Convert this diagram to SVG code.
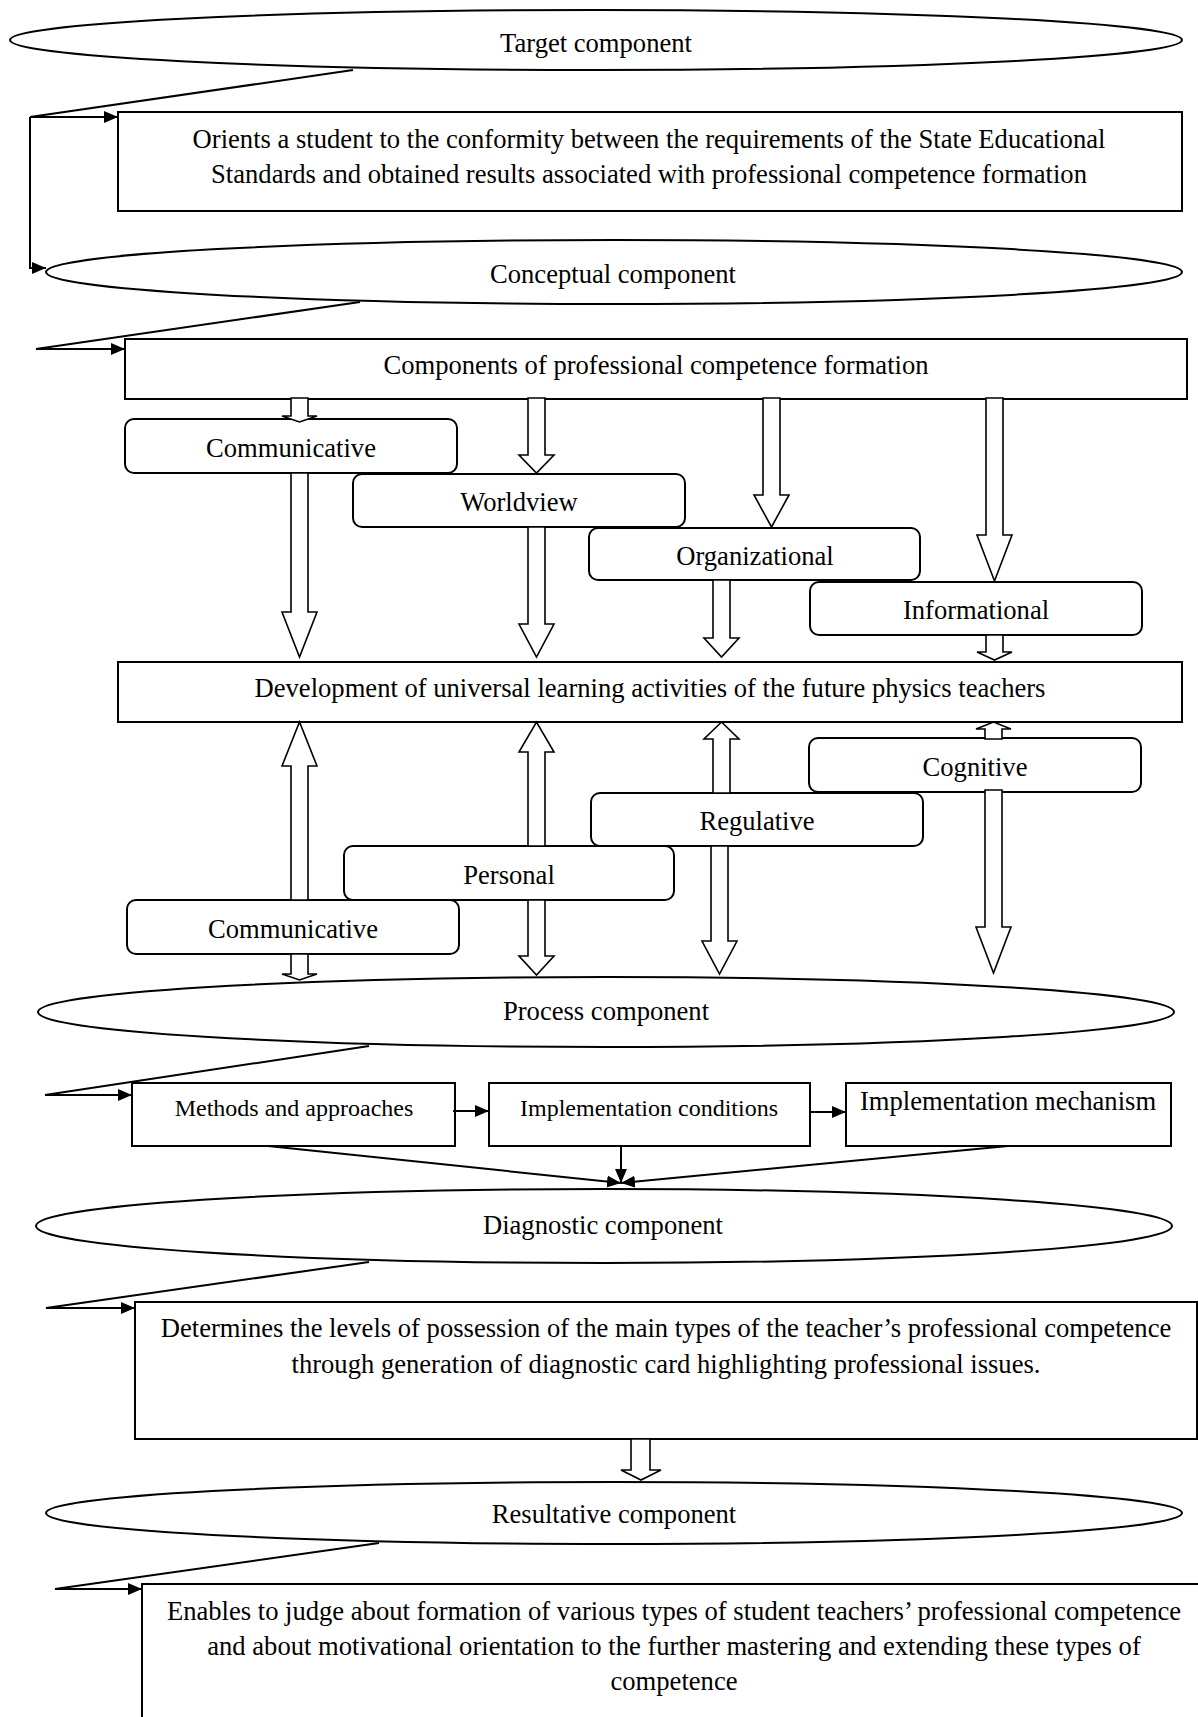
<svg xmlns="http://www.w3.org/2000/svg" width="1198" height="1717" viewBox="0 0 1198 1717">
<style>
text{font-family:"Liberation Serif","Times New Roman",serif;font-size:26.6px;fill:#000;text-anchor:middle}
.sm{font-size:24px}
.el,.bx,.rb{fill:#fff;stroke:#000;stroke-width:2}
.ln{fill:none;stroke:#000;stroke-width:2}
.blk{fill:#fff;stroke:#000;stroke-width:1.6;stroke-linejoin:miter}
</style>
<defs>
<marker id="ah" viewBox="0 0 14 12" refX="14" refY="6" markerWidth="14" markerHeight="12" markerUnits="userSpaceOnUse" orient="auto">
<path d="M0,0 L14,6 L0,12 Z" fill="#000"/>
</marker>
</defs>
<rect width="1198" height="1717" fill="#fff"/>

<g id="target"><ellipse class="el" cx="596" cy="40" rx="586" ry="30"/><text x="596" y="52">Target component</text></g>
<g id="orients"><rect class="bx" x="118" y="112" width="1064" height="99"/>
<text x="649" y="148">Orients a student to the conformity between the requirements of the State Educational</text>
<text x="649" y="183">Standards and obtained results associated with professional competence formation</text></g>
<g id="conceptual"><ellipse class="el" cx="614" cy="272" rx="568" ry="32"/><text x="613" y="283">Conceptual component</text></g>
<g id="components"><rect class="bx" x="125" y="339" width="1062" height="60"/><text x="656" y="374">Components of professional competence formation</text></g>
<g id="communicative1"><rect class="rb" x="125" y="419" width="332" height="54" rx="9"/><text x="291" y="457">Communicative</text></g>
<g id="worldview"><rect class="rb" x="353" y="474" width="332" height="53" rx="9"/><text x="519" y="511">Worldview</text></g>
<g id="organizational"><rect class="rb" x="589" y="528" width="331" height="52" rx="9"/><text x="755" y="565">Organizational</text></g>
<g id="informational"><rect class="rb" x="810" y="582" width="332" height="53" rx="9"/><text x="976" y="619">Informational</text></g>
<g id="development"><rect class="bx" x="118" y="662" width="1064" height="60"/><text x="650" y="697">Development of universal learning activities of the future physics teachers</text></g>
<g id="cognitive"><rect class="rb" x="809" y="738" width="332" height="54" rx="9"/><text x="975" y="776">Cognitive</text></g>
<g id="regulative"><rect class="rb" x="591" y="793" width="332" height="53" rx="9"/><text x="757" y="830">Regulative</text></g>
<g id="personal"><rect class="rb" x="344" y="846" width="330" height="54" rx="9"/><text x="509" y="884">Personal</text></g>
<g id="communicative2"><rect class="rb" x="127" y="900" width="332" height="54" rx="9"/><text x="293" y="938">Communicative</text></g>
<g id="process"><ellipse class="el" cx="606" cy="1012" rx="568" ry="35"/><text x="606" y="1020">Process component</text></g>
<g id="methods"><rect class="bx" x="132" y="1083" width="323" height="63"/><text class="sm" x="294" y="1116">Methods and approaches</text></g>
<g id="conditions"><rect class="bx" x="489" y="1083" width="321" height="63"/><text class="sm" x="649" y="1116">Implementation conditions</text></g>
<g id="mechanism"><rect class="bx" x="846" y="1083" width="325" height="63"/><text x="1008" y="1110">Implementation mechanism</text></g>
<g id="diagnostic"><ellipse class="el" cx="604" cy="1226" rx="568" ry="37"/><text x="603" y="1234">Diagnostic component</text></g>
<g id="determines"><rect class="bx" x="135" y="1302" width="1062" height="137"/>
<text x="666" y="1337">Determines the levels of possession of the main types of the teacher’s professional competence</text>
<text x="666" y="1373">through generation of diagnostic card highlighting professional issues.</text></g>
<g id="resultative"><ellipse class="el" cx="614" cy="1513" rx="568" ry="31"/><text x="614" y="1523">Resultative component</text></g>
<g id="enables"><rect class="bx" x="142" y="1584" width="1070" height="200"/>
<text x="674" y="1620">Enables to judge about formation of various types of student teachers’ professional competence</text>
<text x="674" y="1655">and about motivational orientation to the further mastering and extending these types of</text>
<text x="674" y="1690">competence</text></g>

<g id="connectors">
<path class="ln" d="M353,70 L30,117"/>
<path class="ln" d="M30,117 H118" marker-end="url(#ah)"/>
<path class="ln" d="M30,117 V268 H46" marker-end="url(#ah)"/>
<path class="ln" d="M360,302 L36,349 H125" marker-end="url(#ah)"/>
<path class="ln" d="M369,1046 L45,1095 H132" marker-end="url(#ah)"/>
<path class="ln" d="M453,1111 H489" marker-end="url(#ah)"/>
<path class="ln" d="M810,1112 H846" marker-end="url(#ah)"/>
<path class="ln" d="M268,1146 L621,1183" marker-end="url(#ah)"/>
<path class="ln" d="M621,1146 V1183" marker-end="url(#ah)"/>
<path class="ln" d="M1008,1146 L621,1183" marker-end="url(#ah)"/>
<path class="ln" d="M369,1262 L46,1308 H135" marker-end="url(#ah)"/>
<path class="ln" d="M379,1543 L55,1589 H142" marker-end="url(#ah)"/>

<polygon class="blk" points="291,398 308,398 308,416 317,416 299.5,422 282,416 291,416"/>
<polygon class="blk" points="528,398 545,398 545,455 554,455 536.5,473 519,455 528,455"/>
<polygon class="blk" points="763,398 780,398 780,495 789,495 771.5,527 754,495 763,495"/>
<polygon class="blk" points="986,398 1003,398 1003,535 1012,535 994.5,581 977,535 986,535"/>
<polygon class="blk" points="291,473 308,473 308,612 317,612 299.5,657 282,612 291,612"/>
<polygon class="blk" points="528,527 545,527 545,624 554,624 536.5,657 519,624 528,624"/>
<polygon class="blk" points="713,580 730,580 730,638 739,638 721.5,657 704,638 713,638"/>
<polygon class="blk" points="986,635 1003,635 1003,652 1012,652 994.5,660 977,652 986,652"/>
<polygon class="blk" points="291,900 308,900 308,766 317,766 299.5,722 282,766 291,766"/>
<polygon class="blk" points="528,846 545,846 545,752 554,752 536.5,722 519,752 528,752"/>
<polygon class="blk" points="713,793 730,793 730,739 739,739 721.5,722 704,739 713,739"/>
<polygon class="blk" points="985,739 1002,739 1002,729 1011,729 993.5,722 976,729 985,729"/>
<polygon class="blk" points="291,954 308,954 308,974 317,974 299.5,980 282,974 291,974"/>
<polygon class="blk" points="528,900 545,900 545,956 554,956 536.5,975 519,956 528,956"/>
<polygon class="blk" points="711,846 728,846 728,941 737,941 719.5,974 702,941 711,941"/>
<polygon class="blk" points="985,790 1002,790 1002,927 1011,927 993.5,973 976,927 985,927"/>
<polygon class="blk" points="631,1439 650,1439 650,1470 661,1470 641,1480 621,1470 631,1470"/>
</g>
</svg>
